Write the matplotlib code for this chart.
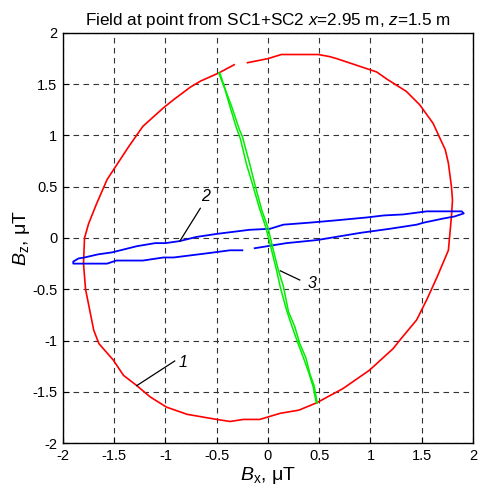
import matplotlib
matplotlib.use('Agg')
import matplotlib.pyplot as plt

plt.rcParams['font.family'] = ['Liberation Sans', 'DejaVu Sans']
plt.rcParams['mathtext.fontset'] = 'custom'
plt.rcParams['mathtext.rm'] = 'Liberation Sans'
plt.rcParams['mathtext.it'] = 'Liberation Sans:italic'

# curve 1 (red), two pieces because of the gap at the top
red1_x = [-0.20, 0.00, 0.13, 0.49, 0.60, 0.67, 0.88, 1.06, 1.16, 1.35, 1.48, 1.61, 1.73, 1.76,
          1.79, 1.80, 1.79, 1.76, 1.65, 1.55, 1.45, 1.30, 1.22, 0.99, 0.73, 0.47, 0.30, 0.12,
          -0.08, -0.24, -0.37, -0.50, -0.79, -0.99, -1.15, -1.28, -1.41, -1.51, -1.65, -1.70,
          -1.78, -1.80, -1.79, -1.75, -1.67, -1.57, -1.36, -1.22, -1.02, -0.92, -0.76, -0.66,
          -0.48, -0.33]
red1_z = [1.71, 1.75, 1.79, 1.79, 1.77, 1.75, 1.68, 1.62, 1.55, 1.43, 1.30, 1.12, 0.86, 0.73,
          0.50, 0.37, 0.21, -0.12, -0.38, -0.60, -0.80, -0.98, -1.08, -1.29, -1.47, -1.61, -1.68,
          -1.71, -1.77, -1.77, -1.79, -1.77, -1.72, -1.65, -1.55, -1.44, -1.34, -1.19, -1.03,
          -0.90, -0.50, -0.25, 0.00, 0.14, 0.34, 0.57, 0.89, 1.09, 1.27, 1.35, 1.47, 1.53,
          1.61, 1.69]

# curve 2 (blue), the loop; the lower branch has a gap near x = -0.2
blue_a_x = [-0.13, 0.18, 0.48, 0.60, 0.90, 1.19, 1.45, 1.52, 1.71, 1.82, 1.91, 1.89, 1.55,
            1.32, 1.13, 0.96, 0.64, 0.41, 0.15, 0.02, -0.18, -0.34, -0.50, -0.70, -0.86,
            -1.00, -1.10, -1.28, -1.52, -1.66, -1.79, -1.85, -1.90, -1.90, -1.57, -1.48,
            -1.22, -1.02, -0.92, -0.60, -0.37, -0.25]
blue_a_z = [-0.10, -0.05, -0.02, 0.00, 0.05, 0.09, 0.13, 0.15, 0.19, 0.21, 0.24, 0.26, 0.26,
            0.23, 0.22, 0.20, 0.17, 0.15, 0.13, 0.09, 0.08, 0.06, 0.04, 0.01, -0.03,
            -0.05, -0.05, -0.08, -0.14, -0.16, -0.19, -0.20, -0.23, -0.25, -0.25, -0.22,
            -0.22, -0.19, -0.19, -0.15, -0.12, -0.12]

# curve 3 (green), drawn twice almost on top of itself
green_a_x = [-0.48, -0.42, -0.37, -0.31, -0.27, -0.21, -0.15, -0.08, -0.02, 0.03, 0.08, 0.12,
             0.18, 0.23, 0.29, 0.35, 0.40, 0.44, 0.47]
green_a_z = [1.61, 1.45, 1.28, 1.08, 0.97, 0.72, 0.52, 0.28, 0.10, -0.10, -0.30, -0.48,
             -0.70, -0.85, -1.02, -1.18, -1.32, -1.45, -1.60]
green_b_x = [-0.47, -0.41, -0.35, -0.28, -0.25, -0.18, -0.13, -0.06, 0.00, 0.05, 0.10, 0.15,
             0.20, 0.26, 0.31, 0.37, 0.41, 0.45, 0.48]
green_b_z = [1.61, 1.43, 1.27, 1.06, 0.99, 0.73, 0.53, 0.27, 0.10, -0.11, -0.31, -0.47,
             -0.72, -0.86, -1.03, -1.17, -1.33, -1.44, -1.61]

ticks = [-2, -1.5, -1, -0.5, 0, 0.5, 1, 1.5, 2]
tick_labels = ['-2', '-1.5', '-1', '-0.5', '0', '0.5', '1', '1.5', '2']

fig = plt.figure(figsize=(4.78, 4.88), dpi=100)
ax = fig.add_axes([0.1318, 0.0922, 0.8577, 0.8402])

ax.plot(red1_x, red1_z, color='red', lw=1.2)
ax.plot(blue_a_x, blue_a_z, color='blue', lw=1.3)
ax.plot(green_a_x, green_a_z, color='#00ee00', lw=1.1)
ax.plot(green_b_x, green_b_z, color='#00ee00', lw=1.1)

# labels of the curves
ax.plot([-1.28, -0.91], [-1.44, -1.20], color='black', lw=0.9)
ax.text(-0.83, -1.21, '1', fontsize=11.5, style='italic', ha='center', va='center')
ax.plot([-0.86, -0.66], [-0.03, 0.29], color='black', lw=0.9)
ax.text(-0.61, 0.40, '2', fontsize=11.5, style='italic', ha='center', va='center')
ax.plot([0.12, 0.31], [-0.32, -0.41], color='black', lw=0.9)
ax.text(0.43, -0.44, '3', fontsize=11.5, style='italic', ha='center', va='center')

ax.set_xlim(-2, 2)
ax.set_ylim(-2, 2)
ax.set_xticks(ticks)
ax.set_xticklabels(tick_labels)
ax.set_yticks(ticks)
ax.set_yticklabels(tick_labels)
ax.tick_params(direction='in', length=4, labelsize=10.5, pad=4)
ax.grid(True, color='0.2', linestyle=(0, (5, 4)), linewidth=0.8)
for s in ax.spines.values():
    s.set_linewidth(1.0)

ax.set_title('Field at point from SC1+SC2 $x$=2.95 m, $z$=1.5 m', fontsize=12.3, pad=6)
ax.set_xlabel(r'$B_\mathrm{x}$, μT', fontsize=14, labelpad=2)
ax.set_ylabel(r'$B_\mathrm{z}$, μT', fontsize=14, labelpad=0)

plt.savefig('out.png', dpi=100)
